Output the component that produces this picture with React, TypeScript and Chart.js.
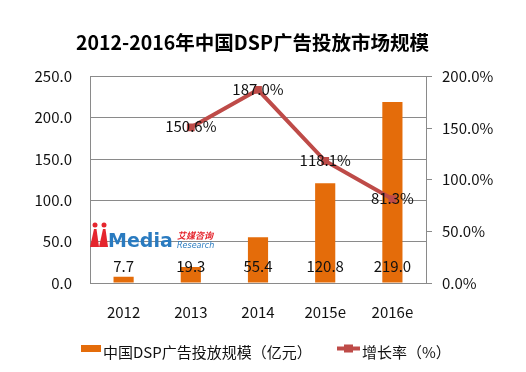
import React, { useEffect, useRef } from 'react';
import { Chart, registerables } from 'chart.js';

Chart.register(...registerables);

const categories = ['2012', '2013', '2014', '2015e', '2016e'];
const marketSize = [7.7, 19.3, 55.4, 120.8, 219.0];
const growthRate: (number | null)[] = [null, 150.6, 187.0, 118.1, 81.3];
const leftAxis = { min: 0, max: 250, step: 50 };
const rightAxis = { min: 0, max: 200, step: 50 };
const titleText = '2012-2016年中国DSP广告投放市场规模';
const barName = '中国DSP广告投放规模（亿元）';
const lineName = '增长率（%）';

const FONT = '"Noto Sans CJK SC", "Noto Sans", sans-serif';
const BAR_COLOR = '#E46C0A';
const LINE_COLOR = '#BE4B48';
const GRID = '#8A8A8A';
const TEXT = '#111111';

const labelPlugin = {
  id: 'valueLabels',
  afterDatasetsDraw(chart: any) {
    const ctx = chart.ctx;
    ctx.save();
    ctx.font = `15px ${FONT}`;
    ctx.fillStyle = TEXT;
    ctx.textAlign = 'center';
    ctx.textBaseline = 'middle';
    const barMeta = chart.getDatasetMeta(1);
    barMeta.data.forEach((el: any, i: number) => {
      ctx.fillText(marketSize[i].toFixed(1), el.x, chart.chartArea.bottom - 17);
    });
    const lineMeta = chart.getDatasetMeta(0);
    lineMeta.data.forEach((el: any, i: number) => {
      const v = growthRate[i];
      if (v == null) return;
      ctx.fillText(v.toFixed(1) + '%', el.x, el.y - 1);
    });
    ctx.restore();
  },
};

const legendPlugin = {
  id: 'customLegend',
  afterDraw(chart: any) {
    const ctx = chart.ctx;
    ctx.save();
    const y = 352;
    ctx.fillStyle = BAR_COLOR;
    ctx.fillRect(81, 345, 20, 7);
    ctx.font = `15px ${FONT}`;
    ctx.fillStyle = TEXT;
    ctx.textAlign = 'left';
    ctx.textBaseline = 'middle';
    ctx.fillText(barName, 103, y);
    ctx.strokeStyle = LINE_COLOR;
    ctx.lineWidth = 4;
    ctx.beginPath();
    ctx.moveTo(337, 348.5);
    ctx.lineTo(360, 348.5);
    ctx.stroke();
    ctx.fillStyle = LINE_COLOR;
    ctx.fillRect(344, 344.5, 9, 8);
    ctx.fillStyle = TEXT;
    ctx.fillText(lineName, 362, y);
    ctx.restore();
  },
};

const watermarkPlugin = {
  id: 'watermark',
  beforeDatasetsDraw(chart: any) {
    const ctx = chart.ctx;
    ctx.save();
    ctx.fillStyle = '#E5262E';
    [95, 104].forEach((cx) => {
      ctx.beginPath();
      ctx.arc(cx, 225, 2.5, 0, Math.PI * 2);
      ctx.fill();
      ctx.beginPath();
      ctx.moveTo(cx - 1, 229);
      ctx.lineTo(cx + 1.5, 229);
      ctx.lineTo(cx + 4, 247);
      ctx.lineTo(cx - 5, 247);
      ctx.closePath();
      ctx.fill();
    });
    ctx.fillStyle = '#2A7BC0';
    ctx.font = `bold 19px "DejaVu Sans", sans-serif`;
    ctx.textAlign = 'left';
    ctx.textBaseline = 'alphabetic';
    ctx.fillText('Media', 108, 247);
    ctx.fillStyle = '#E5262E';
    ctx.font = `italic bold 9px ${FONT}`;
    ctx.fillText('艾媒咨询', 177, 239);
    ctx.fillStyle = '#2A7BC0';
    ctx.font = `italic 8px "DejaVu Sans", sans-serif`;
    ctx.fillText('Research', 177, 248);
    ctx.restore();
  },
};

export default function App() {
  const ref = useRef<HTMLCanvasElement>(null);
  useEffect(() => {
    if (!ref.current) return;
    const chart = new Chart(ref.current, {
      type: 'bar',
      data: {
        labels: categories,
        datasets: [
          {
            type: 'line',
            label: lineName,
            data: growthRate,
            yAxisID: 'y1',
            borderColor: LINE_COLOR,
            backgroundColor: LINE_COLOR,
            borderWidth: 4,
            pointStyle: 'rect',
            pointRadius: 5.5,
            pointBorderWidth: 0,
            order: 0,
          } as any,
          {
            type: 'bar',
            label: barName,
            data: marketSize,
            yAxisID: 'y',
            backgroundColor: BAR_COLOR,
            barPercentage: 0.3,
            categoryPercentage: 1,
            order: 1,
          },
        ],
      },
      options: {
        responsive: false,
        animation: false,
        layout: { padding: { top: 0, left: 0, right: 21, bottom: 39 } },
        plugins: {
          legend: { display: false },
          tooltip: { enabled: false },
          title: {
            display: true,
            text: titleText,
            color: '#000',
            font: { family: FONT, size: 19.5, weight: 'bold' },
            padding: { top: 31, bottom: 22 },
          },
        },
        scales: {
          x: {
            grid: { display: false, drawTicks: false },
            border: { display: true, color: GRID, width: 1 },
            ticks: { color: TEXT, font: { family: FONT, size: 15 }, padding: 20 },
            afterFit: (s: any) => { s.height = 50; },
          },
          y: {
            position: 'left',
            min: leftAxis.min,
            max: leftAxis.max,
            grid: { color: GRID, drawTicks: false },
            border: { display: true, color: GRID },
            ticks: {
              stepSize: leftAxis.step,
              color: TEXT,
              font: { family: FONT, size: 15 },
              padding: 18,
              callback: (v: any) => Number(v).toFixed(1),
            },
            afterFit: (s: any) => { s.width = 90; },
          },
          y1: {
            position: 'right',
            min: rightAxis.min,
            max: rightAxis.max,
            grid: { drawOnChartArea: false, drawTicks: true, tickLength: 6, color: GRID },
            border: { display: true, color: GRID },
            ticks: {
              stepSize: rightAxis.step,
              color: TEXT,
              font: { family: FONT, size: 15 },
              padding: 10,
              callback: (v: any) => Number(v).toFixed(1) + '%',
            },
            afterFit: (s: any) => { s.width = 79; },
          },
        },
      } as any,
      plugins: [watermarkPlugin, labelPlugin, legendPlugin],
    });
    return () => chart.destroy();
  }, []);
  return (
    <div style={{ position: 'fixed', left: 0, top: 0, width: 526, height: 372, background: '#fff' }}>
      <canvas ref={ref} width={526} height={372} style={{ display: 'block' }} />
    </div>
  );
}
